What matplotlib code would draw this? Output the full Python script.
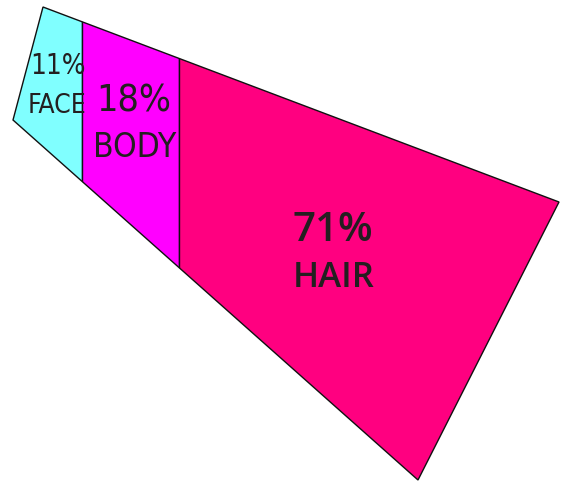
import matplotlib
matplotlib.use("Agg")
import matplotlib.pyplot as plt
from matplotlib.patches import Polygon

# ---- data ----
categories = ["FACE", "BODY", "HAIR"]
values = [11, 18, 71]
colors = ["#80FFFF", "#FF00FF", "#FF0080"]

# ---- figure (pixel coordinates) ----
W, H = 561, 483
fig = plt.figure(figsize=(W / 100, H / 100), dpi=100)
ax = fig.add_axes([0, 0, 1, 1])
ax.set_xlim(0, W)
ax.set_ylim(H, 0)
ax.axis("off")

# skewed outline of the chart
outline = [(43, 7), (559, 202), (418, 480), (13, 120)]
shape = Polygon(outline, closed=True, facecolor="none", edgecolor="#111111", lw=1.0, zorder=4)
ax.add_patch(shape)

# percentage scale along x
x0, span = 22.7, 539.0
def px(pct):
    return x0 + span * pct / 100.0

cum = 0
bounds = []
for v in values:
    bounds.append((cum, cum + v))
    cum += v

for i, ((a, b), c) in enumerate(zip(bounds, colors)):
    left = 0 if i == 0 else px(a)
    right = W if i == len(values) - 1 else px(b)
    sp = ax.axvspan(left, right, facecolor=c, edgecolor="#111111", lw=1.0, zorder=2)
    sp.set_clip_path(shape)

tc = "#231F20"
cond = ["DejaVu Sans"]
styles = [
    dict(pct=dict(x=30, y=74, size=20, family=cond, weight="normal", stretch="condensed"),
         name=dict(x=28, y=113, size=19, family=cond, weight="normal", stretch="condensed")),
    dict(pct=dict(x=96, y=111, size=27, family=cond, weight="normal", stretch="condensed"),
         name=dict(x=93, y=157, size=24, family=cond, weight="normal", stretch="condensed")),
    dict(pct=dict(x=293, y=241, size=29, family=["Open Sans", "DejaVu Sans"], weight="semibold", stretch="normal"),
         name=dict(x=293, y=287, size=25, family=["Open Sans", "DejaVu Sans"], weight="semibold", stretch="normal")),
]
for cat, v, st in zip(categories, values, styles):
    p = st["pct"]
    ax.text(p["x"], p["y"], f"{v}%", fontsize=p["size"], family=p["family"], weight=p["weight"],
            fontstretch=p["stretch"], color=tc, ha="left", va="baseline", zorder=5)
    n = st["name"]
    ax.text(n["x"], n["y"], cat, fontsize=n["size"], family=n["family"], weight=n["weight"],
            fontstretch=n["stretch"], color=tc, ha="left", va="baseline", zorder=5)

fig.savefig("out.png", dpi=100)
